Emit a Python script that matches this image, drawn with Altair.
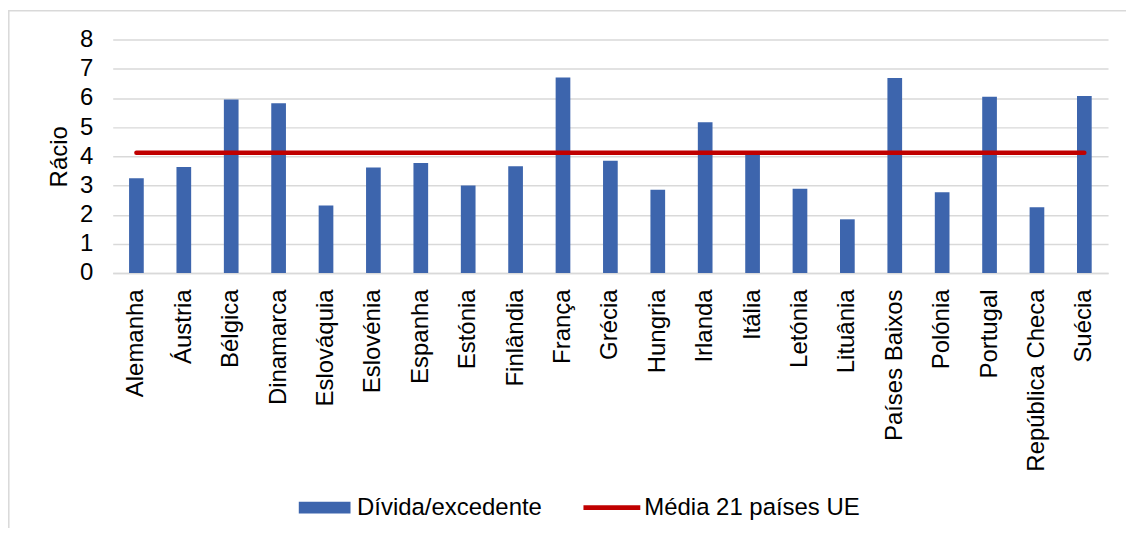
import altair as alt
import pandas as pd

paises = ["Alemanha", "Áustria", "Bélgica", "Dinamarca", "Eslováquia", "Eslovénia",
          "Espanha", "Estónia", "Finlândia", "França", "Grécia", "Hungria", "Irlanda",
          "Itália", "Letónia", "Lituânia", "Países Baixos", "Polónia", "Portugal",
          "República Checa", "Suécia"]
divida_excedente = [3.25, 3.63, 5.95, 5.82, 2.31, 3.62, 3.77, 3.00, 3.66, 6.70, 3.85,
                    2.85, 5.17, 4.07, 2.89, 1.84, 6.68, 2.77, 6.04, 2.25, 6.07]
media_paises = ["Alemanha", "Suécia"]
media_valores = [4.12, 4.12]
series = ["Dívida/excedente", "Média 21 países UE"]
cores = ["#3d65ad", "#c00000"]
y_ticks = [0, 1, 2, 3, 4, 5, 6, 7, 8]

FONT = "Liberation Sans"
W, H = 998, 234

df_bar = pd.DataFrame({"pais": paises, "valor": divida_excedente, "serie": series[0]})
df_line = pd.DataFrame({"pais": media_paises, "valor": media_valores, "serie": series[1]})

shape_expr = ("datum.value === 'Dívida/excedente' ? 'M-0.91,-0.21H0.91V0.21H-0.91Z' "
              ": 'M-1,-0.085H1V0.085H-1Z'")

color = alt.Color(
    "serie:N",
    scale=alt.Scale(domain=series, range=cores),
    legend=alt.Legend(
        title=None, orient="none", legendX=184, legendY=440.5, direction="horizontal",
        labelFont=FONT, labelFontSize=24, labelColor="#000000", labelOffset=4,
        labelLimit=500, columnPadding=41, symbolSize=3249, padding=0,
        symbolType={"expr": shape_expr},
        symbolStrokeWidth=0, symbolOpacity=1,
    ),
)

x_enc = alt.X(
    "pais:N", sort=paises,
    scale=alt.Scale(domain=paises, paddingInner=0.69, paddingOuter=0.345),
    axis=alt.Axis(title=None, labelAngle=-90, labelFont=FONT, labelFontSize=24,
                  labelColor="#000000", labelPadding=16, ticks=False, domain=True,
                  domainColor="#d9d9d9", domainWidth=1.5, grid=False, labelLimit=300,
                  labelOverlap=False),
)
y_enc = alt.Y(
    "valor:Q", scale=alt.Scale(domain=[0, 8], nice=False),
    axis=alt.Axis(values=y_ticks, tickCount=9, title="Rácio", ticks=False, domain=False,
                  grid=True, gridColor="#d9d9d9", gridWidth=1.5, labelPadding=20,
                  labelFont=FONT, labelFontSize=24, labelColor="#000000",
                  labelOverlap=False,
                  titleFont=FONT, titleFontSize=24, titleFontWeight="normal",
                  titleColor="#000000", titlePadding=8),
)

bars = alt.Chart(df_bar).mark_bar().encode(x=x_enc, y=y_enc, color=color)
line = alt.Chart(df_line).mark_line(strokeWidth=4.5, strokeCap="round").encode(
    x=x_enc, y=y_enc, color=color)

blank = alt.Data(values=[{}])
border = alt.Chart(blank).mark_rect(
    fill="transparent", stroke="#d9d9d9", strokeWidth=1.5
).encode(
    x=alt.value(-104.2), x2=alt.value(1040), y=alt.value(-29), y2=alt.value(530))

chart = alt.layer(border, bars, line).properties(
    width=W, height=H,
    autosize=alt.AutoSizeParams(type="none"),
    padding={"left": 105, "top": 31, "right": 18, "bottom": 255},
).configure_view(stroke=None)

chart.save("out.html", embed_options={"renderer": "svg", "actions": False})
